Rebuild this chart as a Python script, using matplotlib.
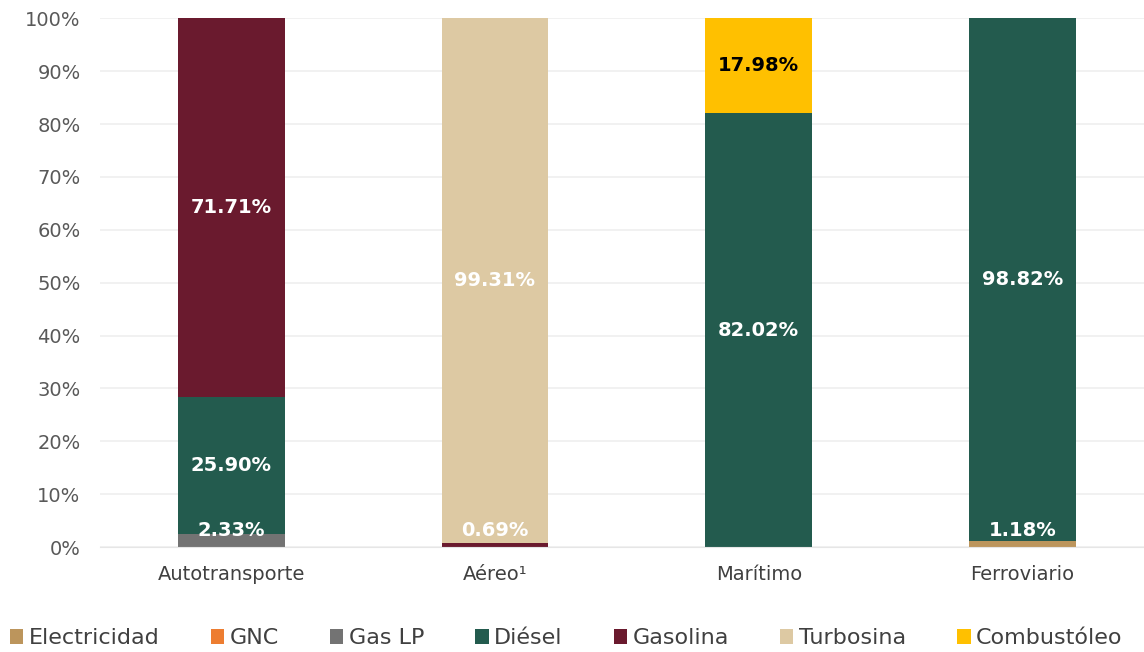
import matplotlib
matplotlib.use("Agg")
import matplotlib.pyplot as plt
import numpy as np

categories = ["Autotransporte", "Aéreo¹", "Marítimo", "Ferroviario"]
series_names = ["Electricidad", "GNC", "Gas LP", "Diésel", "Gasolina", "Turbosina", "Combustóleo"]
electricidad = [0.00, 0.00, 0.00, 1.18]
gnc = [0.06, 0.00, 0.00, 0.00]
gas_lp = [2.33, 0.00, 0.00, 0.00]
diesel = [25.90, 0.00, 82.02, 98.82]
gasolina = [71.71, 0.69, 0.00, 0.00]
turbosina = [0.00, 99.31, 0.00, 0.00]
combustoleo = [0.00, 0.00, 17.98, 0.00]
yticks = [0, 10, 20, 30, 40, 50, 60, 70, 80, 90, 100]

values = [electricidad, gnc, gas_lp, diesel, gasolina, turbosina, combustoleo]
colors = ["#BC955C", "#ED7D31", "#737373", "#235B4E", "#6A1A2E", "#DDC9A3", "#FFC000"]
label_colors = ["white", "white", "white", "white", "white", "white", "black"]

plt.rcParams['font.family'] = ['DejaVu Sans']
fig = plt.figure(figsize=(11.44, 6.52), dpi=100)
ax = fig.add_axes([0.0874, 0.161, 0.9126, 0.811])

x = np.arange(len(categories))
width = 0.405
bottom = np.zeros(len(categories))
for name, vals, col, lc in zip(series_names, values, colors, label_colors):
    v = np.array(vals)
    ax.bar(x, v, width, bottom=bottom, color=col, label=name, zorder=2)
    for i, val in enumerate(v):
        if val >= 0.5:
            if val < 5:
                yy = 3.2
            else:
                yy = bottom[i] + val / 2
            ax.text(x[i], yy, f"{val:.2f}%", ha="center", va="center",
                    color=lc, fontsize=14, fontweight="bold", zorder=3)
    bottom += v

ax.set_ylim(0, 100)
ax.set_xlim(-0.497, 3.46)
ax.set_yticks(yticks)
ax.set_yticklabels([f"{t}%" for t in yticks], fontsize=14, color="#595959")
ax.set_xticks(x)
ax.set_xticklabels(categories, fontsize=14, color="#404040")
ax.tick_params(axis="both", length=0)
ax.tick_params(axis="y", pad=14)
ax.tick_params(axis="x", pad=13)
ax.yaxis.grid(True, color="#EFEFEF", linewidth=1.2, zorder=0)
ax.set_axisbelow(True)
for s in ax.spines.values():
    s.set_visible(False)
ax.spines["bottom"].set_visible(True)
ax.spines["bottom"].set_color("#E6E6E6")

leg = fig.legend(loc="lower center", bbox_to_anchor=(0.495, -0.025), ncol=7, frameon=False,
                 fontsize=16, handlelength=0.6, handleheight=0.7, handletextpad=0.25,
                 columnspacing=2.3, labelcolor="#404040")

fig.savefig("out.png", dpi=100)
